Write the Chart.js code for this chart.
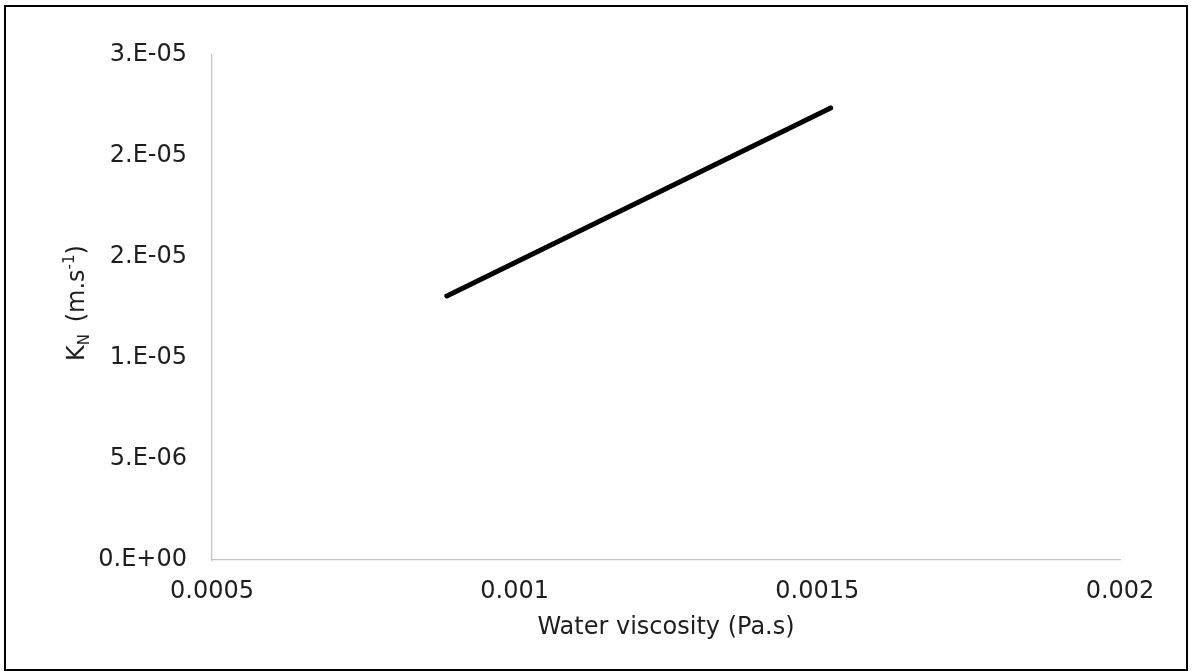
<!DOCTYPE html>
<html>
<head>
<meta charset="utf-8">
<script src="https://cdn.jsdelivr.net/npm/chart.js@4"></script>
<style>
  html, body { margin: 0; padding: 0; background: #fff; }
  #wrap { position: relative; width: 1192px; height: 671px; }
  #frame { position: absolute; left: 4px; top: 5px; width: 1184px; height: 666px;
           border: 2px solid #000; box-sizing: border-box; pointer-events: none; }
  canvas { position: absolute; left: 0; top: 0; }
</style>
</head>
<body>
<div id="wrap">
  <canvas id="viscChart" width="1192" height="671"></canvas>
  <div id="frame"></div>
</div>
<script>
// values
const viscosity = [0.000888, 0.001522];       // Pa.s
const kN = [1.307e-5, 2.238e-5];              // m.s-1
const xTickValues = [0.0005, 0.001, 0.0015, 0.002];
const xTickLabels = ['0.0005', '0.001', '0.0015', '0.002'];
const yTickValues = [0, 5e-6, 1e-5, 1.5e-5, 2e-5, 2.5e-5];
const yTickLabels = ['0.E+00', '5.E-06', '1.E-05', '2.E-05', '2.E-05', '3.E-05'];

const FONT = '"DejaVu Sans", Verdana, sans-serif';
const textColor = '#1e1e1e';

// axis titles drawn by hand (y title needs sub/superscript)
const titlesPlugin = {
    id: 'titles',
    afterDraw(chart) {
        const ctx = chart.ctx;
        const area = chart.chartArea;
        ctx.save();
        ctx.fillStyle = textColor;
        ctx.textBaseline = 'middle';

        // x title
        ctx.font = '24px ' + FONT;
        ctx.textAlign = 'center';
        ctx.fillText('Water viscosity (Pa.s)', (area.left + area.right) / 2, 628);

        // y title: K_N (m.s^-1)
        const parts = [
            { t: 'K', size: 24, dy: 0 },
            { t: 'N', size: 15, dy: 7 },
            { t: ' (m.s', size: 24, dy: 0, gap: 4 },
            { t: '-1', size: 15, dy: -8 },
            { t: ')', size: 24, dy: 0 }
        ];
        let total = 0;
        parts.forEach(p => {
            ctx.font = p.size + 'px ' + FONT;
            p.w = ctx.measureText(p.t).width + (p.gap || 0);
            total += p.w;
        });
        ctx.translate(78, 303);
        ctx.rotate(-Math.PI / 2);
        ctx.textAlign = 'left';
        let x = -total / 2;
        parts.forEach(p => {
            ctx.font = p.size + 'px ' + FONT;
            ctx.fillText(p.t, x + (p.gap || 0), p.dy);
            x += p.w;
        });
        ctx.restore();
    }
};

const ctx = document.getElementById('viscChart').getContext('2d');

const data = {
    datasets: [{
        label: 'KN',
        data: viscosity.map((v, i) => ({ x: v, y: kN[i] })),
        showLine: true,
        borderColor: '#000',
        borderWidth: 5,
        borderCapStyle: 'round',
        pointRadius: 0,
        fill: false
    }]
};

const config = {
    type: 'scatter',
    data: data,
    options: {
        responsive: false,
        animation: false,
        layout: { padding: { top: 55, right: 72, left: 0, bottom: 0 } },
        plugins: {
            legend: { display: false },
            tooltip: { enabled: false }
        },
        scales: {
            x: {
                type: 'linear',
                min: 0.0005,
                max: 0.002,
                afterFit: function (scale) { scale.height = 111; },
                afterBuildTicks: function (scale) {
                    scale.ticks = xTickValues.map(v => ({ value: v }));
                },
                grid: { display: false, drawTicks: false },
                border: { display: true, color: '#c4c4c4', width: 1.3 },
                ticks: {
                    padding: 17,
                    color: textColor,
                    font: { family: FONT, size: 24 },
                    maxRotation: 0,
                    callback: (v, i) => xTickLabels[i]
                }
            },
            y: {
                min: 0,
                max: 2.5e-5,
                afterFit: function (scale) { scale.width = 212; },
                afterBuildTicks: function (scale) {
                    scale.ticks = yTickValues.map(v => ({ value: v }));
                },
                grid: { display: false, drawTicks: false },
                border: { display: true, color: '#c4c4c4', width: 1.3 },
                ticks: {
                    padding: 25,
                    color: textColor,
                    font: { family: FONT, size: 24 },
                    callback: (v, i) => yTickLabels[i]
                }
            }
        }
    },
    plugins: [titlesPlugin]
};

const viscChart = new Chart(ctx, config);
</script>
</body>
</html>
